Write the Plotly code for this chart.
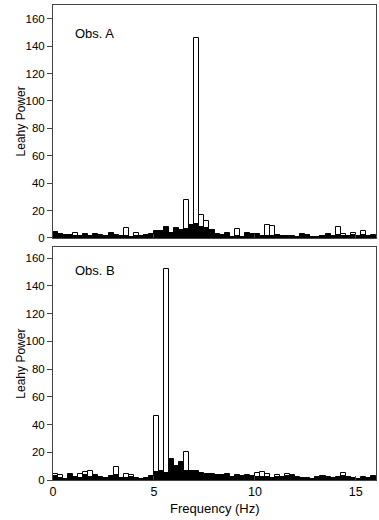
import plotly.graph_objects as go

# frequency bins, 0.25 Hz wide from 0 to 16 Hz
freq = [0.125 + 0.25 * i for i in range(64)]

# Obs. A
a_open = [3, 2, 1.5, 1.5, 3.9, 1, 2, 1, 2, 2.2, 1, 2, 1.5, 1, 7, 0.8,
          3.4, 1.5, 2, 2, 4, 4, 5, 3, 5, 5, 28, 8, 146, 17, 12.7, 5,
          2, 2, 3, 1, 6.3, 1, 3, 2, 2.5, 1, 9.5, 9, 2, 1.5, 1.5, 1,
          1, 2, 2, 1, 0.5, 1.5, 2, 1, 8, 3, 1, 3.4, 1, 5, 1, 1.5]
a_fill = [4.5, 2.8, 2, 2, 1.5, 1.5, 3, 1.5, 3, 1.5, 1.5, 3.4, 2, 1.5, 1.7, 1,
          1.5, 1.7, 2.2, 2.7, 5, 5, 7.8, 3.9, 7, 6, 6.3, 9.5, 10, 7.8, 7, 5.8,
          2.7, 2.2, 3.4, 1, 1.5, 1, 4, 3, 3.2, 1.5, 1.5, 1.5, 2.2, 1.7, 1.7, 1.5,
          1, 2.7, 2.4, 1, 0.5, 1.7, 3, 1.5, 2.2, 1.5, 1.5, 2.2, 1.5, 2.2, 1.5, 2]

# Obs. B
b_open = [4.6, 3.4, 0.8, 3, 1.5, 4.6, 5.5, 6.7, 3.8, 1.5, 1, 2, 9.5, 1, 4, 3.8,
          1, 0.8, 1, 2, 46, 5, 152, 10, 8, 10, 20, 5, 5, 4, 4, 3.5,
          3, 3, 3.5, 1.5, 3, 2.5, 3, 2, 5, 5.5, 4.6, 1, 3.4, 2, 4.6, 3,
          2, 1, 1, 0.8, 1.5, 2.5, 1.5, 1, 1.5, 5, 2.5, 1, 0.8, 1.5, 1, 2]
b_fill = [2.6, 1.4, 1, 4.6, 2, 1.4, 3.4, 2, 3, 2, 1.4, 2.6, 3.4, 1.4, 1.4, 2,
          1.4, 1, 1.4, 3, 5.8, 6.2, 5, 15.4, 10, 13, 6.2, 6.7, 6.2, 5, 4.6, 4.3,
          3.8, 3.4, 4.3, 2, 3.8, 3, 3.8, 2.6, 2, 2, 2, 1.4, 2, 1.4, 3, 3.8,
          1.4, 1.4, 1.4, 1, 2, 3, 2, 1.4, 2, 2.6, 2, 1.4, 1, 2, 1.4, 2.6]

panels = [('Obs. A', a_open, a_fill, 'y'), ('Obs. B', b_open, b_fill, 'y2')]

fig = go.Figure()
for name, op, fl, ya in panels:
    xa = 'x' if ya == 'y' else 'x2'
    fig.add_trace(go.Bar(x=freq, y=op, width=0.25, xaxis=xa, yaxis=ya,
                         marker=dict(color='white', line=dict(color='black', width=1))))
    fig.add_trace(go.Bar(x=freq, y=fl, width=0.25, xaxis=xa, yaxis=ya,
                         marker=dict(color='black', line=dict(color='black', width=1))))

axis_style = dict(showgrid=False, zeroline=False, showline=True, mirror=True,
                  linecolor='#444', linewidth=1, tickcolor='#444',
                  tickfont=dict(size=11.5, color='black'))

fig.update_layout(
    width=379, height=520,
    margin=dict(l=53, r=3, t=5, b=40),
    paper_bgcolor='white', plot_bgcolor='white',
    font=dict(family='Liberation Sans, Arial, sans-serif', size=13, color='black'),
    barmode='overlay', bargap=0, showlegend=False,
    xaxis=dict(domain=[0, 1], range=[0, 16], anchor='y', tickvals=[0, 5, 10, 15],
               showticklabels=False, ticks='inside', ticklen=4, **axis_style),
    yaxis=dict(domain=[0.5095, 1], range=[0, 170], anchor='x',
               tickvals=[0, 20, 40, 60, 80, 100, 120, 140, 160],
               ticks='outside', ticklen=5, **axis_style),
    xaxis2=dict(domain=[0, 1], range=[0, 16], anchor='y2', tickvals=[0, 5, 10, 15],
                ticks='inside', ticklen=4, **axis_style),
    yaxis2=dict(domain=[0, 0.4905], range=[0, 168], anchor='x2',
                tickvals=[0, 20, 40, 60, 80, 100, 120, 140, 160],
                ticks='outside', ticklen=5, **axis_style),
)
fig.update_xaxes(tickfont=dict(size=12.5))

fig.add_annotation(text='Obs. A', x=0.062, y=0.941, xref='paper', yref='paper',
                   xanchor='left', yanchor='middle', showarrow=False, font=dict(size=13))
fig.add_annotation(text='Obs. B', x=0.062, y=0.442, xref='paper', yref='paper',
                   xanchor='left', yanchor='middle', showarrow=False, font=dict(size=13))
for yc in [0.755, 0.245]:
    fig.add_annotation(text='Leahy Power', x=-0.099, y=yc, xref='paper', yref='paper',
                       xanchor='center', yanchor='middle', textangle=-90,
                       showarrow=False, font=dict(size=12))
fig.add_annotation(text='Frequency (Hz)', x=0.5, y=-0.059, xref='paper', yref='paper',
                   xanchor='center', yanchor='middle', showarrow=False, font=dict(size=13))

# drop the default page margin so the figure sits at the window's corner
fig.write_html('out.html', config={'displayModeBar': False},
               post_script="document.body.style.margin='0';")
